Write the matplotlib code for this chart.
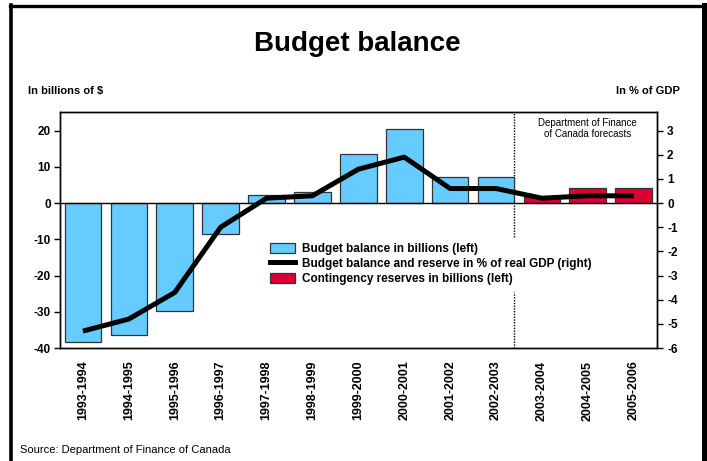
import matplotlib
matplotlib.use("Agg")
import matplotlib.pyplot as plt
from matplotlib.lines import Line2D
from matplotlib.patches import Patch
import numpy as np

plt.rcParams['font.family'] = ['Liberation Sans', 'DejaVu Sans']
plt.rcParams['axes.unicode_minus'] = False

years = ["1993-1994", "1994-1995", "1995-1996", "1996-1997", "1997-1998",
         "1998-1999", "1999-2000", "2000-2001", "2001-2002", "2002-2003",
         "2003-2004", "2004-2005", "2005-2006"]
# billions of $, actual results then forecast contingency reserves
balance_bn = [-38.4, -36.5, -29.8, -8.5, 2.1, 3.0, 13.5, 20.4, 7.2, 7.2]
reserve_bn = [1.8, 4.2, 4.2]
# % of real GDP
balance_pct = [-5.3, -4.8, -3.7, -1.0, 0.2, 0.3, 1.4, 1.9, 0.6, 0.6, 0.2, 0.3, 0.3]

left_ticks = [-40, -30, -20, -10, 0, 10, 20]
right_ticks = [-6, -5, -4, -3, -2, -1, 0, 1, 2, 3]

BLUE = "#66CCFF"
RED = "#DD0033"
EDGE = "#333333"

fig = plt.figure(figsize=(7.07, 4.61), dpi=100)
ax = fig.add_axes([0.0849, 0.2451, 0.8439, 0.5126])

x = np.arange(len(years))
n_actual = len(balance_bn)
ax.bar(x[:n_actual], balance_bn, width=0.8, color=BLUE, edgecolor=EDGE, linewidth=0.9, zorder=2)
ax.bar(x[n_actual:], reserve_bn, width=0.8, color=RED, edgecolor=EDGE, linewidth=0.9, zorder=2)
ax.axhline(0, color="black", lw=1, zorder=3)

ax.set_xlim(-0.5, len(years) - 0.5)
ax.set_ylim(-40, 25.2)
ax.set_yticks(left_ticks)
ax.set_yticklabels([str(t) for t in left_ticks], fontsize=8.5, fontweight="bold")
ax.set_xticks(x)
ax.set_xticklabels(years, rotation=90, fontsize=9, fontweight="bold")
ax.tick_params(axis="x", length=0, pad=9)
ax.tick_params(axis="y", length=4.5, width=1, pad=2)
for s in ax.spines.values():
    s.set_linewidth(1)

# forecast boundary, broken around the legend
xb = n_actual - 1 + 0.4
ax.axvline(xb, ymin=0.471, ymax=1, color="black", lw=1, ls=(0, (1, 1)), zorder=1)
ax.axvline(xb, ymin=0, ymax=0.238, color="black", lw=1, ls=(0, (1, 1)), zorder=1)
ax.text(11.0, 23.5, "Department of Finance\nof Canada forecasts", ha="center", va="top",
        fontsize=7, linespacing=1.2)

# % of GDP line on its own scale, drawn over the bars
ax2 = ax.twinx()
ax2.set_ylim(-6, 25.2 / (40 / 6))
ax2.plot(x, balance_pct, color="black", lw=3.6, zorder=4, solid_capstyle="butt")
ax2.set_yticks(right_ticks)
ax2.set_yticklabels([str(t) for t in right_ticks], fontsize=8.5, fontweight="bold")
ax2.tick_params(axis="y", length=4.5, width=1, pad=3)
for s in ax2.spines.values():
    s.set_linewidth(1)
ax2.patch.set_visible(False)

handles = [Patch(facecolor=BLUE, edgecolor=EDGE, linewidth=0.9),
           Line2D([0], [0], color="black", lw=3.6),
           Patch(facecolor=RED, edgecolor=EDGE, linewidth=0.9)]
labels = ["Budget balance in billions (left)",
          "Budget balance and reserve in % of real GDP (right)",
          "Contingency reserves in billions (left)"]
ax2.legend(handles, labels, loc="upper left", bbox_to_anchor=(270 / 707, 1 - 243 / 461),
           bbox_transform=fig.transFigure, frameon=False,
           prop={"size": 8.5, "weight": "bold"}, handlelength=2.1, handleheight=0.9,
           handletextpad=0.6, labelspacing=0.25, borderaxespad=0, borderpad=0)

fig.text(357 / 707, 1 - 44 / 461, "Budget balance", ha="center", va="center",
         fontsize=20, fontweight="bold")
fig.text(28 / 707, 1 - 91 / 461, "In billions of $", ha="left", va="center",
         fontsize=8, fontweight="bold")
fig.text(680 / 707, 1 - 91 / 461, "In % of GDP", ha="right", va="center",
         fontsize=8, fontweight="bold")
fig.text(20 / 707, 1 - 450 / 461, "Source: Department of Finance of Canada", ha="left",
         va="center", fontsize=8)

# outer frame (open at the bottom)
fig.add_artist(Line2D([11 / 707, 11 / 707], [0, 1 - 5 / 461], transform=fig.transFigure,
                      color="black", lw=2.6))
fig.add_artist(Line2D([9.5 / 707, 1], [1 - 6.5 / 461, 1 - 6.5 / 461], transform=fig.transFigure,
                      color="black", lw=2.4))
fig.add_artist(Line2D([704 / 707, 704 / 707], [0, 1 - 5 / 461], transform=fig.transFigure,
                      color="black", lw=3.6))

fig.savefig("out.png", dpi=100)
